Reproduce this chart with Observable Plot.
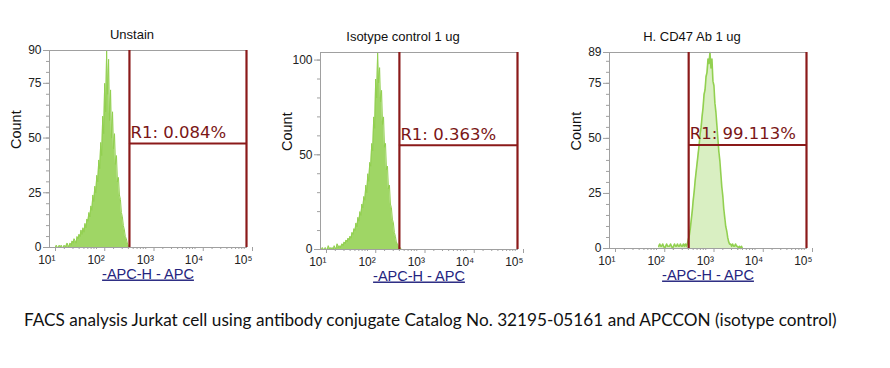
<!DOCTYPE html>
<html><head><meta charset="utf-8">
<script src="https://cdn.jsdelivr.net/npm/d3@7"></script>
<script src="https://cdn.jsdelivr.net/npm/@observablehq/plot@0.6"></script>
<style>
body{margin:0;background:#fff;width:890px;height:368px;overflow:hidden;position:relative;font-family:"Liberation Sans",Arial,sans-serif}
.panel{position:absolute;top:0}
#caption{position:absolute;left:24px;top:309px;font-family:Lato,"Open Sans",sans-serif;font-size:17.2px;color:#111;white-space:nowrap}
</style></head>
<body>
<div id="p0" class="panel" style="left:0px"></div>
<div id="p1" class="panel" style="left:271px"></div>
<div id="p2" class="panel" style="left:560px"></div>
<div id="caption"></div>
<script>
const captionText = "FACS analysis Jurkat cell using antibody conjugate Catalog No. 32195-05161 and APCCON (isotype control)";
const titles = ["Unstain", "Isotype control 1 ug", "H. CD47 Ab 1 ug"];
const yMax = [90, 104, 89];
const yMajorTicks = [[0, 25, 50, 75, 90], [0, 50, 100], [0, 25, 50, 75, 89]];
const yMinorStep = [5, 10, 5];
const xMajorTicks = [1e1, 1e2, 1e3, 1e4, 1e5];
const xTickLabels = ["10\u00B9", "10\u00B2", "10\u00B3", "10\u2074", "10\u2075"];
const xLabel = "-APC-H - APC";
const yLabel = "Count";
const gateLabels = ["R1: 0.084%", "R1: 0.363%", "R1: 99.113%"];
const gateStart = [420, 400, 405];
const gateEnd = 1e5;
const gateLevel = [47.5, 55, 47];
const binStartLog = [1.0, 1.0, 2.0];
const binStepLog = 0.02;
const countsUnstain = [
  0,0,0,0,0,0,0,1,0,0,1,
  0,1,0,0,1,0,1,2,0,1,
  2,1,3,2,4,3,2,5,4,6,
  5,8,6,9,7,11,9,13,12,16,
  14,19,17,24,21,28,25,33,30,40,
  36,48,42,60,52,75,62,90,70,86,
  58,72,50,62,45,52,38,42,30,32,
  24,22,16,14,10,8,5,4,2,1,
  0,0,0,0,0
];
const countsIsotype = [
  0,0,1,0,0,1,0,0,2,0,1,
  0,1,0,2,0,1,3,1,2,1,
  2,3,2,4,3,5,4,6,5,7,
  6,9,8,11,10,14,12,17,15,20,
  18,24,22,28,26,34,30,40,36,46,
  44,56,52,70,64,90,80,104,88,96,
  78,84,66,70,54,56,42,44,32,34,
  24,22,16,14,9,7,4,3,2,1,
  1,0,0,0,0
];
const countsCD47 = [
  1,2,1,1,2,1,0,1,2,1,1,
  1,2,1,0,1,2,1,1,2,1,
  1,2,1,1,2,1,2,1,2,4,
  6,9,13,17,22,26,31,35,39,43,
  47,52,55,60,64,70,72,78,80,86,
  84,89,82,86,76,74,66,62,56,50,
  44,40,34,28,24,18,14,10,8,5,
  3,2,2,1,2,1,1,2,1,1,
  0,1,0,1,0
];
const allCounts = [countsUnstain, countsIsotype, countsCD47];

const GREEN = "#92D050", GATE = "#8b1a1a", AXIS = "#a0a0a0";
const W = 290, H = 300;
const frameTop = [50, 52, 52];
const frameBottom = [247, 249, 248];

const xMinor = [];
for (let d = 1; d < 5; d++) for (let m = 2; m <= 9; m++) xMinor.push(m * Math.pow(10, d));

allCounts.forEach((counts, i) => {
  const data = counts.map((c, k) => ({v: Math.pow(10, binStartLog[i] + k * binStepLog), c}));
  const yMinor = d3.range(0, yMax[i] + 0.001, yMinorStep[i]);
  const lineOnly = i === 2;
  const svg = Plot.plot({
    width: W, height: H,
    marginLeft: 49, marginRight: W - 49 - 197,
    marginTop: frameTop[i], marginBottom: H - frameBottom[i],
    style: {fontFamily: "'Liberation Sans', Arial, sans-serif", fontSize: "12px", color: "#222", background: "white"},
    x: {type: "log", domain: [1e1, 1e5]},
    y: {domain: [0, yMax[i]]},
    marks: [
      Plot.areaY(data, {x: "v", y: "c", fill: GREEN, fillOpacity: lineOnly ? 0.35 : 0.88}),
      Plot.lineY(data, {x: "v", y: "c", stroke: GREEN, strokeWidth: lineOnly ? 1.6 : 1}),
      Plot.frame({stroke: AXIS}),
      Plot.axisY(yMinor, {tickSize: 3, tickFormat: () => "", stroke: AXIS, label: null}),
      Plot.axisY(yMajorTicks[i], {tickSize: 6, tickPadding: 2, stroke: AXIS, label: null, fontSize: 12}),
      Plot.axisX(xMinor, {tickSize: 2, tickFormat: () => "", stroke: AXIS, label: null}),
      Plot.axisX(xMajorTicks, {tickSize: 4, tickPadding: 4, stroke: AXIS, label: null, fontSize: 12,
        tickFormat: (d) => xTickLabels[xMajorTicks.indexOf(d)], textAnchor: "end", dx: 6}),
      Plot.ruleX([gateStart[i], gateEnd], {stroke: GATE, strokeWidth: 2.2}),
      Plot.ruleY([gateLevel[i]], {x1: gateStart[i], x2: gateEnd, stroke: GATE, strokeWidth: 2}),
      Plot.text([gateLabels[i]], {x: gateStart[i], y: gateLevel[i], text: d => d, textAnchor: "start", dx: 1, dy: -11,
        fill: "#7a1616", fontSize: 16.5, fontFamily: "'DejaVu Sans', Verdana, sans-serif"}),
      Plot.text([titles[i]], {text: d => d, frameAnchor: "top", dy: -21, dx: -16, fontSize: 13, fill: "#111"}),
      Plot.text([yLabel], {text: d => d, frameAnchor: "left", dx: -33, rotate: -90, fontSize: 14.5, fill: "#111"}),
      Plot.text([xLabel], {text: d => d, frameAnchor: "bottom", dy: 31, fontSize: 14.5, fill: "#25257f", className: "xlab"})
    ]
  });
  d3.select(svg).selectAll(".xlab text").style("text-decoration", "underline");
  document.getElementById("p" + i).appendChild(svg);
});
document.getElementById("caption").textContent = captionText;
</script>
</body></html>
